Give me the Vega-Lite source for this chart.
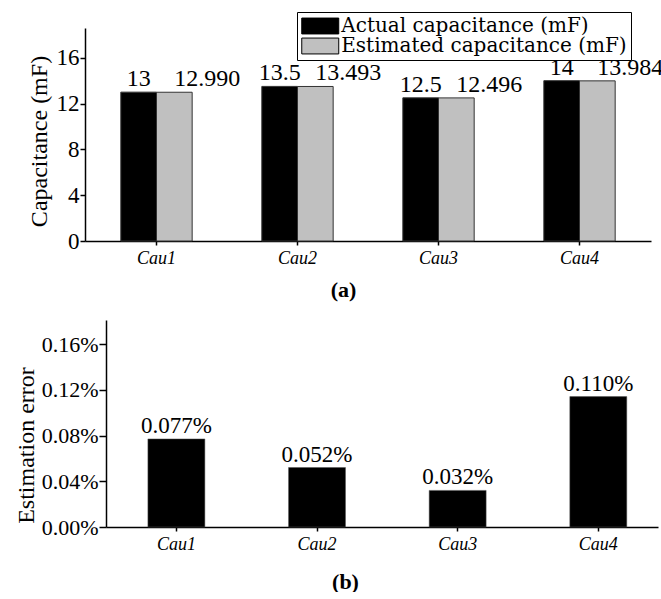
{
  "$schema": "https://vega.github.io/schema/vega-lite/v6.json",
  "padding": {"left": 14, "top": 11, "right": 0, "bottom": 0},
  "autosize": {"type": "pad"},
  "bounds": "flush",
  "spacing": 79,
  "config": {
    "view": {"stroke": null},
    "font": "Liberation Serif",
    "axis": {
      "grid": false,
      "domainColor": "black",
      "tickColor": "black",
      "labelColor": "black",
      "titleColor": "black",
      "domainWidth": 1.5,
      "tickWidth": 1.5,
      "labelFont": "Liberation Serif",
      "titleFont": "Liberation Serif",
      "titleFontWeight": "normal"
    }
  },
  "vconcat": [
    {
      "width": 566,
      "height": 213,
      "data": {
        "values": [
          {"capacitor": "Cau1", "series": "Actual capacitance (mF)", "value": 13},
          {"capacitor": "Cau1", "series": "Estimated capacitance (mF)", "value": 12.99},
          {"capacitor": "Cau2", "series": "Actual capacitance (mF)", "value": 13.5},
          {"capacitor": "Cau2", "series": "Estimated capacitance (mF)", "value": 13.493},
          {"capacitor": "Cau3", "series": "Actual capacitance (mF)", "value": 12.5},
          {"capacitor": "Cau3", "series": "Estimated capacitance (mF)", "value": 12.496},
          {"capacitor": "Cau4", "series": "Actual capacitance (mF)", "value": 14},
          {"capacitor": "Cau4", "series": "Estimated capacitance (mF)", "value": 13.984}
        ]
      },
      "encoding": {
        "x": {
          "field": "capacitor",
          "type": "nominal",
          "sort": null,
          "scale": {"paddingInner": 0.494, "paddingOuter": 0.254},
          "axis": {
            "title": "(a)",
            "titleFontWeight": "bold",
            "titleFontSize": 22,
            "titlePadding": 12,
            "titleX": 258,
            "labelAngle": 0,
            "labelFontStyle": "italic",
            "labelFontSize": 18,
            "tickSize": 4,
            "labelPadding": 4
          }
        },
        "xOffset": {"field": "series", "sort": null},
        "y": {
          "field": "value",
          "type": "quantitative",
          "scale": {"domain": [0, 18.6], "nice": false},
          "axis": {
            "values": [0, 4, 8, 12, 16],
            "title": "Capacitance (mF)",
            "titleFontSize": 24,
            "titlePadding": 5,
            "titleY": 113,
            "labelFontSize": 23,
            "tickSize": 5,
            "labelPadding": 1
          }
        }
      },
      "layer": [
        {
          "mark": {"type": "bar", "stroke": "#333333", "strokeWidth": 1},
          "encoding": {
            "fill": {
              "field": "series",
              "type": "nominal",
              "scale": {
                "domain": ["Actual capacitance (mF)", "Estimated capacitance (mF)"],
                "range": ["#000000", "#c0c0c0"]
              },
              "legend": {
                "orient": "none",
                "legendX": 212,
                "legendY": -16,
                "direction": "vertical",
                "title": null,
                "symbolType": "M-2,-0.86H2V0.86H-2Z",
                "symbolSize": 342,
                "symbolOffset": 9.25,
                "symbolStrokeColor": "#000000",
                "symbolStrokeWidth": 1,
                "symbolOpacity": 1,
                "labelFont": "DejaVu Serif",
                "labelFontSize": 20,
                "labelColor": "black",
                "labelLimit": 400,
                "labelOffset": 11,
                "strokeColor": "black",
                "fillColor": "white",
                "padding": 4,
                "rowPadding": 0
              }
            }
          }
        },
        {
          "transform": [{"filter": "datum.series === 'Actual capacitance (mF)'"}],
          "mark": {"type": "text", "font": "Liberation Serif", "color": "black", "baseline": "bottom", "dy": -1, "fontSize": 24},
          "encoding": {"text": {"field": "value", "type": "quantitative"}}
        },
        {
          "transform": [{"filter": "datum.series === 'Estimated capacitance (mF)'"}],
          "mark": {"type": "text", "font": "Liberation Serif", "color": "black", "baseline": "bottom", "align": "left", "dy": -1, "fontSize": 24},
          "encoding": {
            "x": {"field": "capacitor", "type": "nominal", "sort": null, "bandPosition": 0},
            "text": {"field": "value", "type": "quantitative", "format": ".3f"}
          }
        }
      ]
    },
    {
      "width": 573,
      "height": 207,
      "data": {
        "values": [
          {"capacitor": "Cau1", "error": 0.077, "label": "0.077%"},
          {"capacitor": "Cau2", "error": 0.052, "label": "0.052%"},
          {"capacitor": "Cau3", "error": 0.032, "label": "0.032%"},
          {"capacitor": "Cau4", "error": 0.114, "label": "0.110%"}
        ]
      },
      "encoding": {
        "x": {
          "field": "capacitor",
          "type": "nominal",
          "sort": null,
          "scale": {"range": [21, 573], "paddingInner": 0.595, "paddingOuter": 0.26, "align": 0.573},
          "axis": {
            "title": "(b)",
            "titleFontWeight": "bold",
            "titleFontSize": 22,
            "titlePadding": 18,
            "titleX": 260,
            "labelAngle": 0,
            "labelFontStyle": "italic",
            "labelFontSize": 18,
            "tickSize": 4,
            "labelPadding": 4
          }
        },
        "y": {
          "field": "error",
          "type": "quantitative",
          "scale": {"domain": [0, 0.181], "nice": false},
          "axis": {
            "offset": -21,
            "values": [0, 0.04, 0.08, 0.12, 0.16],
            "labelExpr": "format(datum.value, '.2f') + '%'",
            "title": "Estimation error",
            "titleFontSize": 24,
            "titlePadding": 3,
            "titleY": 125,
            "labelFontSize": 22,
            "tickSize": 7,
            "labelPadding": 1
          }
        }
      },
      "layer": [
        {
          "mark": {"type": "bar", "fill": "#000000", "stroke": "#555555", "strokeWidth": 0.5}
        },
        {
          "mark": {"type": "text", "font": "Liberation Serif", "color": "black", "baseline": "bottom", "dy": -1, "fontSize": 23},
          "encoding": {"text": {"field": "label", "type": "nominal"}}
        }
      ]
    }
  ]
}
